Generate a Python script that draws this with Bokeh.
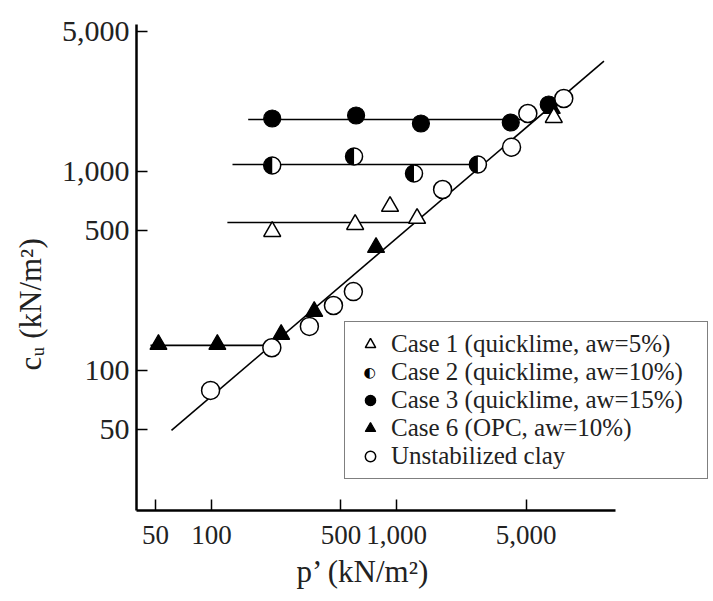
import math
from bokeh.plotting import figure
from bokeh.models import (Range1d, FixedTicker, NumeralTickFormatter, Legend,
                          LegendItem, Label, Title)
from bokeh.embed import file_html
from bokeh.resources import INLINE

# ---- data ----
x_ticks = [50, 100, 500, 1000, 5000]
y_ticks = [50, 100, 500, 1000, 5000]

case1_p = [213, 597, 921, 1289, 7050]
case1_cu = [497, 539, 664, 578, 1859]
case2_p = [213, 589, 1241, 2745]
case2_cu = [1067, 1184, 972, 1079]
case3_p = [213, 604, 1352, 4130, 6620]
case3_cu = [1837, 1902, 1734, 1754, 2161]
case6_p = [51.8, 107.7, 238, 359, 774, 6875]
case6_cu = [134.5, 134.5, 151, 197, 413, 2063]
clay_p = [99, 212, 338, 456, 584, 1770, 4170, 5106, 7980]
clay_cu = [79, 129.4, 165.6, 211, 248, 808, 1318, 1947, 2316]

# fitted lines
diag_p = [60.9, 13150]
diag_cu = [49.7, 3565]
case1_line_p = [122, 1239]
case1_level = 551
case2_line_p = [130, 2921]
case2_level = 1079
case3_line_p = [158, 5637]
case3_level = 1816
case6_line_p = [46.9, 209.8]
case6_level = 133

labels = ["Case 1 (quicklime, aw=5%)", "Case 2 (quicklime, aw=10%)",
          "Case 3 (quicklime, aw=15%)", "Case 6 (OPC, aw=10%)",
          "Unstabilized clay"]
x_label = "p\u2019 (kN/m\u00b2)"
y_label = "c\u1d64 (kN/m\u00b2)"

SERIF = "Liberation Serif"
TXT = "#222222"

x_axis_start, x_axis_end = 39.43, 15212

p = figure(width=713, height=601, x_axis_type="log", y_axis_type="log",
           x_range=Range1d(x_axis_start, 50050), y_range=Range1d(19.68, 5453),
           output_backend="svg", toolbar_location=None,
           min_border_left=135, min_border_right=2, min_border_top=24,
           min_border_bottom=91)
p.outline_line_color = None
p.grid.visible = False
p.background_fill_color = "white"

for ax, ticks in ((p.xaxis[0], x_ticks), (p.yaxis[0], y_ticks)):
    ax.ticker = FixedTicker(ticks=ticks, minor_ticks=[])
    ax.formatter = NumeralTickFormatter(format="0,0")
    ax.axis_line_width = 2.5
    ax.axis_line_color = "black"
    ax.major_tick_in = 11
    ax.major_tick_out = 0
    ax.major_tick_line_width = 1.5
    ax.major_tick_line_color = "black"
    ax.minor_tick_line_color = None
    ax.major_label_text_font = SERIF
    ax.major_label_text_color = TXT

p.xaxis.bounds = (x_axis_start, x_axis_end)
p.xaxis.major_label_text_font_size = "27px"
p.yaxis.major_label_text_font_size = "30px"
p.xaxis.major_label_standoff = 15
p.yaxis.major_label_standoff = 7

# axis titles (placed with an offset so they sit where the reference has them)
p.add_layout(Title(text=x_label, align="left", offset=160,
                   text_font=SERIF, text_font_size="31px",
                   text_font_style="normal", text_color=TXT, standoff=10),
             "below")
p.add_layout(Title(text=y_label, align="left", offset=140,
                   text_font=SERIF, text_font_size="31px",
                   text_font_style="normal", text_color=TXT, standoff=21),
             "left")

lw = 1.6
p.line(diag_p, diag_cu, line_color="black", line_width=lw)
p.line(case1_line_p, [case1_level, case1_level], line_color="black", line_width=lw)
p.line(case2_line_p, [case2_level, case2_level], line_color="black", line_width=lw)
p.line(case3_line_p, [case3_level, case3_level], line_color="black", line_width=lw)
p.line(case6_line_p, [case6_level, case6_level], line_color="black", line_width=lw)

r3 = p.scatter(case3_p, case3_cu, marker="circle", size=17, fill_color="black",
               line_color="black", line_width=1.2)
r6 = p.scatter(case6_p, case6_cu, marker="triangle", size=17, fill_color="black",
               line_color="black", line_width=1.2)
r2 = p.scatter(case2_p, case2_cu, marker="circle", size=17, fill_color="white",
               line_color="black", line_width=1.5)
p.wedge(case2_p, case2_cu, radius=8.5, radius_units="screen",
        start_angle=math.pi / 2, end_angle=3 * math.pi / 2,
        fill_color="black", line_color=None)
r1 = p.scatter(case1_p, case1_cu, marker="triangle", size=17, fill_color="white",
               line_color="black", line_width=1.5)
rc = p.scatter(clay_p, clay_cu, marker="circle", size=18, fill_color="white",
               line_color="black", line_width=1.5)
# invisible stand-in so the legend row for Case 2 leaves room for the symbol
r2_key = p.scatter(case2_p, case2_cu, marker="circle", size=0,
                   fill_alpha=0, line_alpha=0)

legend = Legend(items=[LegendItem(label=labels[0], renderers=[r1]),
                       LegendItem(label=labels[1], renderers=[r2_key]),
                       LegendItem(label=labels[2], renderers=[r3]),
                       LegendItem(label=labels[3], renderers=[r6]),
                       LegendItem(label=labels[4], renderers=[rc])],
                location=(208, 31), orientation="vertical",
                glyph_width=34, glyph_height=26, label_standoff=4,
                label_width=308, padding=8, spacing=0, margin=0,
                label_text_font=SERIF, label_text_font_size="25px",
                label_text_color=TXT,
                border_line_color="black", border_line_width=1.5,
                background_fill_alpha=0.0)
p.add_layout(legend, "center")

# half-filled key symbol for Case 2 (shows through the transparent legend)
p.add_layout(Label(x=233, y=138.8, x_units="screen", y_units="screen",
                   text="\u25d0", text_font="DejaVu Sans",
                   text_font_size="14px", text_align="center",
                   text_baseline="middle", text_color="black"))

open("out.html", "w").write(file_html(p, INLINE))
